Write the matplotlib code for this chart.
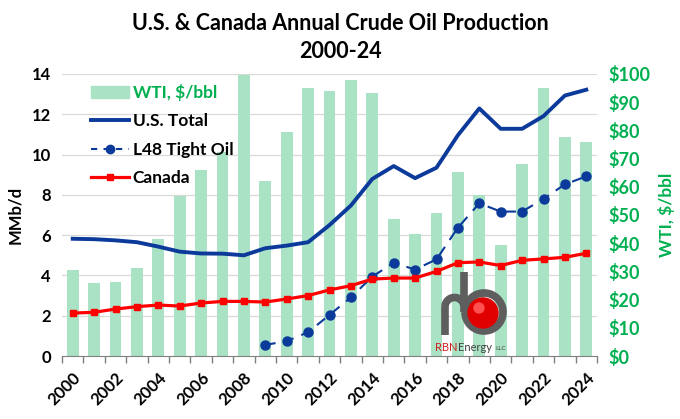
import matplotlib.pyplot as plt
import matplotlib.patches as mpatches
from matplotlib.lines import Line2D
import numpy as np

plt.rcParams['font.family'] = ['Lato', 'DejaVu Sans']
plt.rcParams['font.weight'] = 'bold'
plt.rcParams['axes.labelweight'] = 'bold'

years = list(range(2000, 2025))
wti = [30.4, 26.0, 26.2, 31.1, 41.5, 56.6, 66.0, 72.3, 99.7, 61.9, 79.5, 94.9, 94.0,
       98.0, 93.2, 48.7, 43.3, 50.8, 65.2, 57.0, 39.2, 68.1, 94.9, 77.6, 75.8]
us_total = [5.82, 5.80, 5.74, 5.65, 5.43, 5.18, 5.09, 5.08, 5.00, 5.35, 5.48, 5.65, 6.50,
            7.47, 8.79, 9.43, 8.83, 9.35, 10.96, 12.29, 11.28, 11.28, 11.91, 12.93, 13.22]
tight_years = list(range(2009, 2025))
tight_oil = [0.55, 0.74, 1.18, 2.04, 2.91, 3.94, 4.63, 4.29, 4.80, 6.37, 7.58, 7.17, 7.17,
             7.80, 8.52, 8.92]
canada = [2.13, 2.17, 2.33, 2.45, 2.53, 2.48, 2.63, 2.71, 2.71, 2.68, 2.83, 3.00, 3.28,
          3.49, 3.82, 3.87, 3.87, 4.20, 4.63, 4.67, 4.49, 4.75, 4.82, 4.90, 5.10]

GREEN = '#00B050'
BAR = '#A9E2C4'
BLUE = '#0B3A9A'
RED = '#FF0000'

fig = plt.figure(figsize=(6.8, 4.19), dpi=100)
ax = fig.add_axes([62 / 680, 63 / 419, 535 / 680, 282 / 419])
ax2 = ax.twinx()
ax.set_zorder(ax2.get_zorder() + 1)
ax.patch.set_visible(False)

x = np.arange(len(years))
xt = np.array(tight_years) - years[0]

ax2.bar(x, wti, width=0.55, color=BAR, zorder=2)
ax2.set_ylim(0, 100)
ax.set_ylim(0, 14)
ax.set_xlim(-0.5, len(years) - 0.5)

# gridlines follow the left axis ticks, drawn behind the bars
for t in np.arange(2, 15, 2):
    ax2.axhline(t / 14 * 100, color='#D9D9D9', lw=0.9, zorder=1)

ax.plot(x, us_total, color=BLUE, lw=2.8, zorder=3)
ax.plot(xt, tight_oil, color=BLUE, lw=1.5, ls=(0, (5, 4)), marker='o', ms=6.5, zorder=4)
ax.plot(x, canada, color=RED, lw=2.3, marker='s', ms=5, zorder=5)

ax.set_yticks(np.arange(0, 15, 2))
ax.tick_params(axis='y', length=0, labelsize=12, pad=8)
ax2.set_yticks(np.arange(0, 101, 10))
ax2.set_yticklabels([f'${v}' for v in range(0, 101, 10)])
ax2.tick_params(axis='y', length=0, labelsize=13, labelcolor=GREEN, pad=8)

ax.set_xticks(x[::2])
ax.set_xticklabels([str(y) for y in years[::2]], rotation=45, ha='right',
                   rotation_mode='anchor', fontsize=12)
ax.set_xticks(np.arange(-0.5, len(years), 1), minor=True)
ax.tick_params(axis='x', which='major', length=0, pad=10)
ax.tick_params(axis='x', which='minor', length=5, color='#808080', width=1)

for a in (ax, ax2):
    for s in ('top', 'left', 'right'):
        a.spines[s].set_visible(False)
    a.spines['bottom'].set_color('#808080')
ax2.spines['bottom'].set_visible(False)

ax.set_ylabel('MMb/d', fontsize=12, labelpad=6)
ax2.set_ylabel('WTI, $/bbl', fontsize=12.5, color=GREEN, labelpad=6)

fig.text(0.5, 0.945, 'U.S. & Canada Annual Crude Oil Production', ha='center',
         va='center', fontsize=15.5, fontweight='bold')
fig.text(0.5, 0.878, '2000-24', ha='center', va='center', fontsize=15.5,
         fontweight='bold')

handles = [mpatches.Patch(color=BAR),
           Line2D([], [], color=BLUE, lw=2.8),
           Line2D([], [], color=BLUE, lw=1.5, ls=(0, (3, 3)), marker='o', ms=6),
           Line2D([], [], color=RED, lw=2.3, marker='s', ms=4)]
labels = ['WTI, $/bbl', 'U.S. Total', 'L48 Tight Oil', 'Canada']
leg = ax.legend(handles, labels, loc='upper left', bbox_to_anchor=(0.025, 1.02),
                frameon=False, fontsize=12.5, handlelength=2.2, handletextpad=0.2,
                labelspacing=0.72)
leg.get_texts()[0].set_color(GREEN)

# RBN Energy logo (rough)
lax = fig.add_axes([433 / 680, 67 / 419, 77 / 680, 85 / 419])
lax.set_xlim(0, 77)
lax.set_ylim(0, 85)
lax.axis('off')
pipe = dict(color='#5E5E5E', lw=5.5, solid_capstyle='butt')
lax.plot([12, 12], [17, 45], **pipe)
th = np.linspace(np.pi, 0, 40)
lax.plot(21.5 + 9.5 * np.cos(th), 45 + 9.5 * np.sin(th), **pipe)
lax.plot([31, 31], [40, 80], **pipe)
th = np.linspace(np.pi, -np.pi, 90)
lax.plot(51 + 19 * np.cos(th), 40 + 19 * np.sin(th), **pipe)
lax.add_patch(mpatches.Circle((50, 39), 15, color='#E00000', zorder=3))
lax.add_patch(mpatches.Circle((46, 44), 5, color='#FF5050', zorder=4))
lax.text(2, 5, 'RBN', color='#D02020', fontsize=8, fontweight='normal', va='center')
lax.text(25, 5, 'Energy', color='#404040', fontsize=8, fontweight='normal', va='center')
lax.text(62, 4, 'LLC', color='#404040', fontsize=4.5, fontweight='normal', va='center')

fig.savefig('out.png', dpi=100)
